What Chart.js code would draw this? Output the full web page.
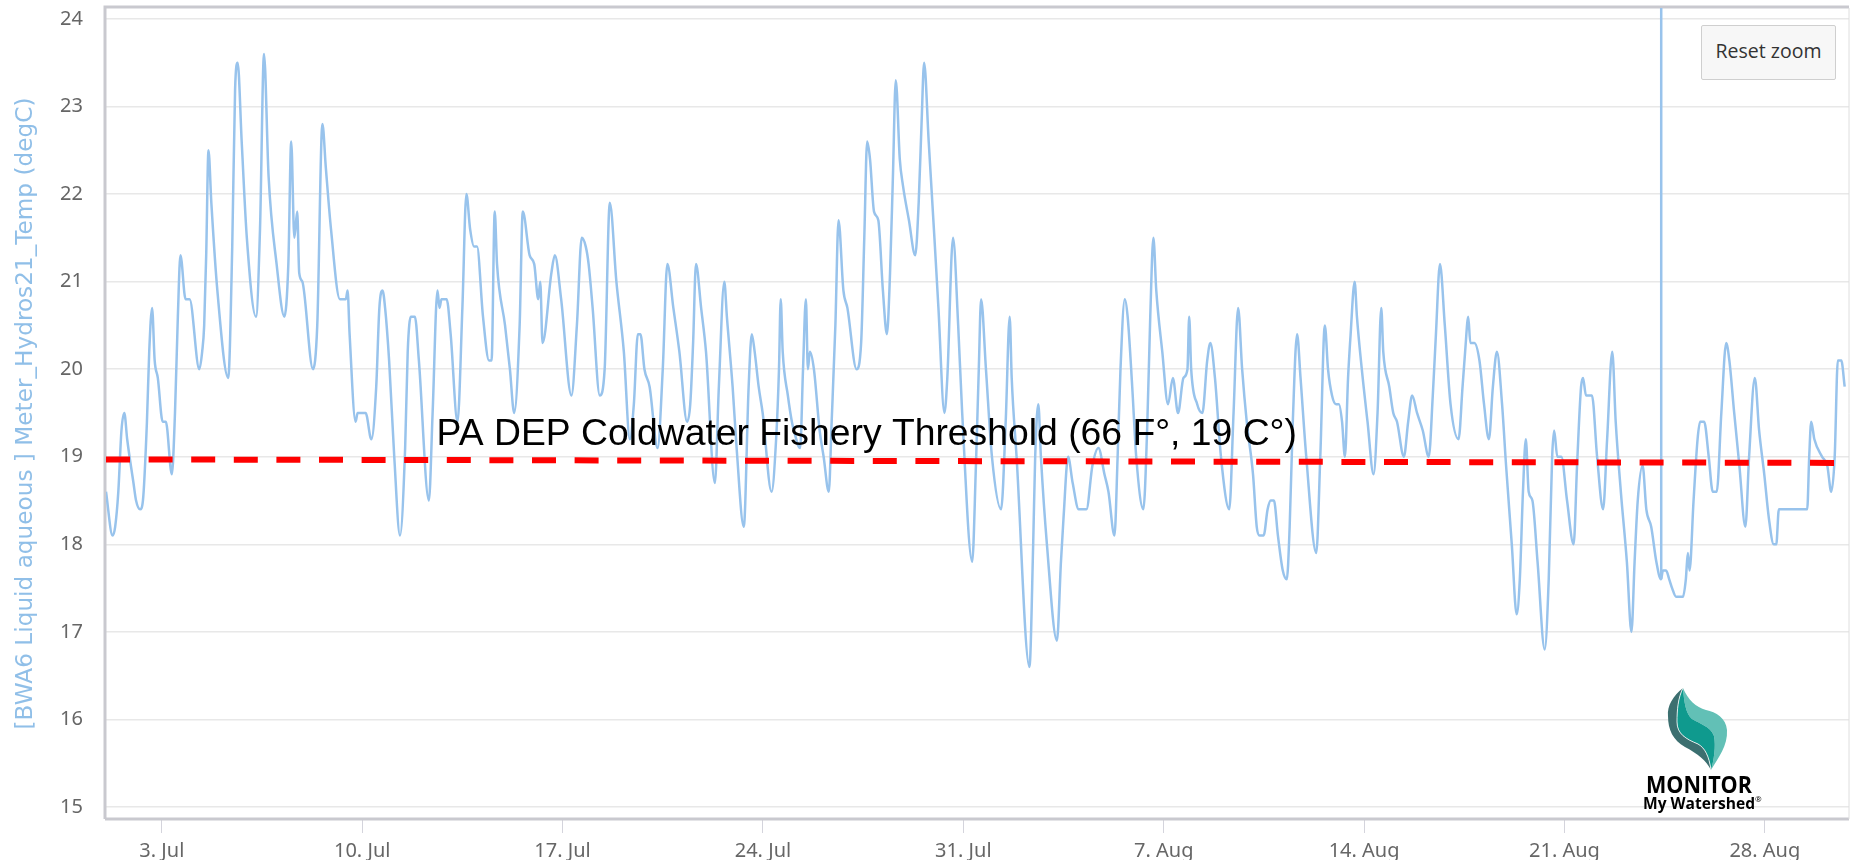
<!DOCTYPE html>
<html>
<head>
<meta charset="utf-8">
<title>BWA6 temperature</title>
<script src="https://cdn.jsdelivr.net/npm/chart.js@4"></script>
<style>
  html, body { margin: 0; padding: 0; background: #fff; }
  #wrap { position: relative; width: 1851px; height: 860px; overflow: hidden; }
  #resetZoom {
    position: absolute; left: 1701px; top: 25px; width: 135px; height: 55px;
    background: #f7f7f7; border: 1px solid #cfcfcf; border-radius: 2px;
    font: 19.5px "Open Sans", sans-serif; color: #333; padding: 0 0 4px 0;
  }
  #logo { position: absolute; left: 1640px; top: 684px; width: 130px; height: 130px; }
</style>
</head>
<body>
<div id="wrap">
  <canvas id="chart" width="1851" height="860"></canvas>
  <button id="resetZoom">Reset zoom</button>
  <svg id="logo" viewBox="0 0 130 130">
    <path d="M43 4C44 18 46 30 52 35C60 40 70 42 74 52C76 62 74 76 71 86C78 74 88 62 87 46C86 34 76 28 66 26C56 23 48 16 43 4Z" fill="#62c0b6"/>
    <path d="M43 4C38 14 37 26 37 38C37 50 46 55 58 60C65 64 69 72 71 86C74 76 76 62 74 52C70 42 60 40 52 35C46 30 44 18 43 4Z" fill="#0f9a8e"/>
    <path d="M43 4C33 12 27 22 28 32C28 46 33 56 45 63C58 70 66 76 71 86C69 72 65 64 58 60C46 55 37 50 37 38C37 26 38 14 43 4Z" fill="#3c6f70"/>
    <path d="M43 4C38 14 37 26 37 38C37 50 46 55 58 60C65 64 69 72 71 86" fill="none" stroke="#fff" stroke-width="0.8"/>
    <text x="6" y="109" font-family="Open Sans, sans-serif" font-weight="700" font-size="24" fill="#000" textLength="106" lengthAdjust="spacingAndGlyphs">MONITOR</text>
    <text x="3" y="125" font-family="Open Sans, sans-serif" font-weight="700" font-size="16" fill="#000" textLength="112" lengthAdjust="spacingAndGlyphs">My Watershed</text>
    <text x="115" y="118" font-family="Open Sans, sans-serif" font-size="8" fill="#000">®</text>
  </svg>
</div>
<script>
// ── Data ─────────────────────────────────────────────────
// days since 1 Jul, one reading per entry in temps
const days = [
  0.05, 0.28, 0.37, 0.48, 0.59, 0.69, 0.79, 1.01, 1.10, 1.24,
  1.34, 1.48, 1.56, 1.66, 1.75, 1.86, 2.03, 2.14, 2.35, 2.46,
  2.56, 2.65, 2.83, 2.97, 3.31, 3.41, 3.48, 3.55, 3.63, 3.73,
  3.94, 4.32, 4.46, 4.56, 4.65, 4.79, 4.97, 5.29, 5.43, 5.57,
  5.73, 6.01, 6.28, 6.42, 6.52, 6.63, 6.73, 6.80, 6.91, 7.28,
  7.43, 7.61, 7.73, 7.91, 8.22, 8.43, 8.49, 8.56, 8.77, 8.84,
  9.12, 9.32, 9.49, 9.60, 9.71, 9.80, 9.94, 10.12, 10.32, 10.50,
  10.59, 10.70, 10.84, 10.98, 11.33, 11.46, 11.63, 11.70, 11.77, 11.95,
  12.09, 12.33, 12.50, 12.64, 12.77, 12.91, 13.01, 13.22, 13.43, 13.52,
  13.63, 13.71, 13.99, 14.16, 14.31, 14.50, 14.61, 14.85, 15.01, 15.15,
  15.22, 15.30, 15.61, 15.73, 15.95, 16.31, 16.50, 16.67, 16.81, 16.91,
  17.05, 17.30, 17.47, 17.65, 17.88, 18.14, 18.35, 18.49, 18.63, 18.72,
  18.86, 19.04, 19.32, 19.50, 19.66, 19.87, 20.08, 20.35, 20.46, 20.56,
  20.66, 20.84, 21.01, 21.32, 21.46, 21.65, 21.74, 21.94, 22.08, 22.33,
  22.50, 22.61, 22.71, 22.85, 22.99, 23.30, 23.46, 23.56, 23.62, 23.69,
  23.87, 24.01, 24.08, 24.30, 24.40, 24.50, 24.57, 24.64, 24.78, 24.98,
  25.12, 25.30, 25.40, 25.53, 25.64, 25.81, 25.95, 26.27, 26.43, 26.54,
  26.64, 26.74, 26.88, 27.03, 27.19, 27.33, 27.44, 27.54, 27.64, 27.78,
  27.89, 28.10, 28.32, 28.44, 28.54, 28.63, 28.79, 28.99, 29.13, 29.34,
  29.44, 29.64, 29.82, 29.96, 30.31, 30.44, 30.54, 30.62, 30.79, 31.00,
  31.32, 31.48, 31.62, 31.69, 31.86, 32.31, 32.44, 32.51, 32.62, 32.71,
  32.92, 33.27, 33.41, 33.50, 33.66, 33.82, 34.03, 34.30, 34.51, 34.72,
  34.93, 35.07, 35.28, 35.39, 35.49, 35.64, 35.74, 35.90, 36.04, 36.29,
  36.42, 36.53, 36.64, 36.74, 36.95, 37.15, 37.32, 37.50, 37.69, 37.83,
  37.89, 37.96, 38.17, 38.35, 38.52, 38.63, 38.79, 39.00, 39.29, 39.44,
  39.60, 39.74, 39.90, 40.12, 40.25, 40.35, 40.49, 40.63, 40.74, 40.85,
  40.99, 41.16, 41.30, 41.40, 41.51, 41.66, 41.78, 41.98, 42.33, 42.47,
  42.63, 42.74, 42.88, 43.02, 43.12, 43.23, 43.33, 43.44, 43.53, 43.67,
  43.75, 43.92, 44.12, 44.33, 44.47, 44.60, 44.67, 44.88, 45.02, 45.15,
  45.39, 45.54, 45.68, 45.85, 46.05, 46.26, 46.40, 46.51, 46.65, 46.82,
  47.02, 47.30, 47.44, 47.53, 47.64, 47.71, 47.85, 48.03, 48.19, 48.36,
  48.50, 48.64, 48.82, 48.96, 49.16, 49.33, 49.44, 49.55, 49.65, 49.75,
  49.88, 50.06, 50.31, 50.45, 50.57, 50.64, 50.75, 50.89, 51.09, 51.32,
  51.44, 51.58, 51.65, 51.75, 51.96, 52.14, 52.35, 52.49, 52.67, 52.79,
  52.97, 53.18, 53.34, 53.45, 53.56, 53.73, 53.86, 54.03, 54.21, 54.37,
  54.44, 54.55, 54.66, 54.76, 54.90, 55.14, 55.24, 55.31, 55.37, 55.51,
  55.65, 55.74, 55.88, 56.04, 56.18, 56.32, 56.48, 56.65, 56.76, 56.93,
  57.11, 57.32, 57.45, 57.65, 57.80, 57.98, 58.14, 58.31, 58.40, 58.49,
  59.48, 59.55, 59.62, 59.73, 60.00, 60.18, 60.32, 60.44, 60.55, 60.67,
  60.79,
];
const temps = [
  18.6, 18.1, 18.2, 18.6, 19.3, 19.5, 19.2, 18.7, 18.5, 18.4,
  18.5, 19.4, 20.2, 20.7, 20.1, 19.9, 19.4, 19.4, 18.8, 19.5,
  20.6, 21.3, 20.8, 20.8, 20.0, 20.2, 20.5, 21.3, 22.5, 21.9,
  20.9, 19.9, 21.4, 23.2, 23.5, 22.6, 21.5, 20.6, 21.6, 23.6,
  22.2, 21.2, 20.6, 21.2, 22.6, 21.5, 21.8, 21.1, 21.0, 20.0,
  20.5, 22.8, 22.3, 21.6, 20.8, 20.8, 20.9, 20.4, 19.4, 19.5,
  19.5, 19.2, 19.8, 20.7, 20.9, 20.7, 20.1, 19.0, 18.1, 19.1,
  20.2, 20.6, 20.6, 20.1, 18.5, 19.5, 20.9, 20.7, 20.8, 20.8,
  20.4, 19.4, 20.7, 22.0, 21.6, 21.4, 21.4, 20.6, 20.1, 20.1,
  21.8, 21.2, 20.5, 20.0, 19.5, 20.5, 21.8, 21.3, 21.2, 20.8,
  21.0, 20.3, 21.1, 21.3, 20.8, 19.7, 20.5, 21.5, 21.4, 21.2,
  20.7, 19.7, 20.0, 21.9, 21.0, 20.2, 19.2, 19.6, 20.4, 20.4,
  20.0, 19.8, 19.1, 20.0, 21.2, 20.7, 20.2, 19.4, 19.6, 20.3,
  21.2, 20.7, 20.2, 18.7, 19.8, 21.0, 20.6, 19.8, 19.1, 18.2,
  19.8, 20.4, 20.2, 19.8, 19.5, 18.6, 19.2, 20.0, 20.8, 20.2,
  19.7, 19.4, 19.3, 19.1, 20.0, 20.8, 20.0, 20.2, 20.0, 19.3,
  19.0, 18.6, 19.4, 20.5, 21.7, 20.9, 20.7, 20.0, 20.3, 21.5,
  22.6, 22.4, 21.8, 21.7, 20.9, 20.4, 21.1, 22.2, 23.3, 22.4,
  22.1, 21.7, 21.3, 21.9, 22.8, 23.5, 22.6, 21.5, 20.7, 19.5,
  19.9, 21.5, 20.5, 19.5, 17.8, 18.9, 20.0, 20.8, 20.0, 19.0,
  18.4, 19.4, 20.6, 19.9, 19.0, 16.6, 18.0, 19.0, 19.6, 19.0,
  18.0, 16.9, 17.8, 18.3, 19.0, 18.7, 18.4, 18.4, 18.9, 19.1,
  18.8, 18.6, 18.1, 19.0, 20.0, 20.8, 20.6, 19.8, 19.0, 18.4,
  19.3, 20.6, 21.5, 20.9, 20.2, 19.6, 19.9, 19.5, 19.9, 20.0,
  20.6, 20.0, 19.6, 19.5, 20.1, 20.3, 19.9, 19.0, 18.4, 19.5,
  20.7, 20.0, 19.4, 18.8, 18.2, 18.1, 18.1, 18.4, 18.5, 18.5,
  18.1, 17.7, 17.6, 18.2, 19.4, 20.4, 19.9, 19.0, 17.9, 19.0,
  20.5, 20.0, 19.7, 19.6, 19.6, 19.4, 19.0, 19.9, 20.4, 21.0,
  20.6, 20.0, 19.4, 18.8, 19.5, 20.7, 20.2, 19.8, 19.5, 19.4,
  19.0, 19.4, 19.7, 19.5, 19.3, 19.0, 19.7, 20.4, 21.2, 20.5,
  19.6, 19.2, 19.8, 20.2, 20.6, 20.3, 20.3, 20.1, 19.6, 19.2,
  19.8, 20.2, 19.6, 18.9, 18.0, 17.2, 17.6, 18.6, 19.2, 18.6,
  18.5, 17.8, 16.8, 17.6, 19.0, 19.3, 19.0, 19.0, 18.5, 18.0,
  18.9, 19.8, 19.9, 19.7, 19.7, 19.0, 18.4, 19.2, 20.2, 19.4,
  18.6, 17.8, 17.0, 17.8, 18.5, 18.9, 18.4, 18.2, 17.8, 17.6,
  17.7, 17.7, 17.6, 17.5, 17.4, 17.4, 17.6, 17.9, 17.7, 18.5,
  19.2, 19.4, 19.4, 19.0, 18.6, 18.6, 19.5, 20.3, 20.1, 19.5,
  18.9, 18.2, 19.0, 19.9, 19.3, 18.8, 18.3, 18.0, 18.0, 18.4,
  18.4, 19.0, 19.4, 19.2, 19.0, 18.9, 18.6, 19.0, 20.1, 20.1,
  19.8,
];

// vertical spike near 25 Aug
const spikeDays = [54.38, 54.38];
const spikeTemps = [17.6, 24.2];

// threshold line drawn on the sheet
const thresholdDays = [0.05, 60.46];
const thresholdTemps = [18.97, 18.93];
const thresholdLabel = "PA DEP Coldwater Fishery Threshold (66 F°, 19 C°)";

const yTicks = [15, 16, 17, 18, 19, 20, 21, 22, 23, 24];
const xTickDays = [2, 9, 16, 23, 30, 37, 44, 51, 58];
const xTickLabels = ["3. Jul", "10. Jul", "17. Jul", "24. Jul", "31. Jul", "7. Aug", "14. Aug", "21. Aug", "28. Aug"];
const yTitle = "[BWA6 Liquid aqueous ] Meter_Hydros21_Temp (degC)";

// ── Helpers ──────────────────────────────────────────────
const toPoints = (xs, ys) => xs.map((x, i) => ({ x, y: ys[i] }));

// plot frame + threshold caption, both on top of the grid
const framePlugin = {
  id: "frame",
  beforeDatasetsDraw(chart) {
    const { ctx, chartArea: a } = chart;
    ctx.save();
    ctx.strokeStyle = "#c9c9cf";
    ctx.lineWidth = 3;
    ctx.beginPath();
    ctx.moveTo(a.left - 1, a.bottom);
    ctx.lineTo(a.left - 1, a.top - 1);
    ctx.lineTo(a.right, a.top - 1);
    ctx.moveTo(a.left - 1, a.bottom);
    ctx.lineTo(a.right, a.bottom);
    ctx.stroke();
    ctx.strokeStyle = "#dedede";
    ctx.lineWidth = 1;
    ctx.beginPath();
    ctx.moveTo(a.right, a.top);
    ctx.lineTo(a.right, a.bottom);
    ctx.stroke();
    ctx.restore();
  },
  afterDatasetsDraw(chart) {
    const { ctx, scales } = chart;
    ctx.save();
    ctx.font = '37.3px "Liberation Sans", sans-serif';
    ctx.fillStyle = "#000";
    ctx.textBaseline = "alphabetic";
    ctx.fillText(thresholdLabel, scales.x.getPixelForValue(11.6), scales.y.getPixelForValue(19.137));
    ctx.restore();
  },
};

// ── Chart ────────────────────────────────────────────────
new Chart(document.getElementById("chart"), {
  type: "line",
  data: {
    datasets: [
      {
        data: toPoints(days, temps),
        borderColor: "#98c3ec",
        borderWidth: 2.5,
        pointRadius: 0,
        cubicInterpolationMode: "monotone",
        order: 2,
      },
      {
        data: toPoints(spikeDays, spikeTemps),
        borderColor: "#98c3ec",
        borderWidth: 2.5,
        pointRadius: 0,
        order: 1,
      },
      {
        data: toPoints(thresholdDays, thresholdTemps),
        borderColor: "#ff0000",
        borderWidth: 6,
        borderDash: [24, 18.6],
        pointRadius: 0,
        order: 0,
      },
    ],
  },
  options: {
    responsive: false,
    animation: false,
    layout: { padding: { top: 8, right: 2 } },
    plugins: { legend: { display: false }, tooltip: { enabled: false } },
    scales: {
      x: {
        type: "linear",
        min: 0.05,
        max: 60.94,
        afterFit: (s) => { s.height = 41; s.paddingLeft = 0; s.paddingRight = 0; },
        afterBuildTicks: (s) => { s.ticks = xTickDays.map((value) => ({ value })); },
        border: { display: false },
        grid: { drawOnChartArea: false, drawTicks: true, tickLength: 14, tickColor: "#d4d4dc", lineWidth: 1 },
        ticks: {
          autoSkip: false,
          maxRotation: 0,
          padding: 6,
          color: "#666",
          font: { family: '"Noto Sans", sans-serif', size: 20 },
          callback: (v) => xTickLabels[xTickDays.indexOf(v)],
        },
      },
      y: {
        min: 14.863,
        max: 24.125,
        afterFit: (s) => { s.width = 106; s.paddingTop = 0; s.paddingBottom = 0; },
        afterBuildTicks: (s) => { s.ticks = yTicks.map((value) => ({ value })); },
        border: { display: false },
        grid: { color: "#e8e8e8", lineWidth: 1.5, drawTicks: false },
        ticks: {
          padding: 23,
          color: "#666",
          font: { family: '"Noto Sans", sans-serif', size: 20 },
        },
        title: {
          display: true,
          text: yTitle,
          color: "#90bfe8",
          padding: { top: 12, bottom: 0 },
          font: { family: '"DejaVu Sans", sans-serif', size: 23.2, weight: "normal" },
        },
      },
    },
  },
  plugins: [framePlugin],
});
</script>
</body>
</html>
